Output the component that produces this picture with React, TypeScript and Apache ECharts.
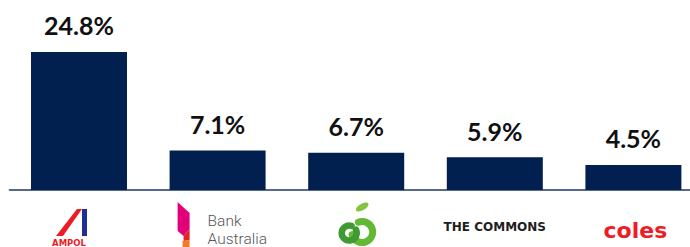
import React, { useEffect, useRef } from "react";
import * as echarts from "echarts";

const categories = ["Ampol", "Bank Australia", "Woolworths", "The Commons", "Coles"];
const shares = [24.8, 7.1, 6.7, 5.9, 4.5];

const NAVY = "#02204f";

export default function App() {
  const ref = useRef<HTMLDivElement>(null);
  useEffect(() => {
    if (!ref.current) return;
    const chart = echarts.init(ref.current, undefined, { renderer: "svg" });
    chart.setOption({
      animation: false,
      grid: { left: 9.7, width: 693, top: 23.05, height: 166.95, containLabel: false },
      xAxis: {
        type: "category",
        data: categories,
        axisLine: { show: true, lineStyle: { color: "#56698a", width: 2 } },
        axisTick: { show: false },
        axisLabel: { show: false },
      },
      yAxis: { type: "value", min: 0, max: 30, show: false, splitLine: { show: false } },
      series: [
        {
          type: "bar",
          data: shares,
          barWidth: 96,
          itemStyle: { color: NAVY },
          label: {
            show: true,
            position: "top",
            distance: 14,
            formatter: "{c}%",
            fontFamily: "Lato",
            fontWeight: "bold",
            fontSize: 25,
            color: "#111111",
          },
        },
      ],
    });

    const cx = (i: number) => chart.convertToPixel({ xAxisIndex: 0 }, categories[i]) as number;
    const c0 = cx(0), c1 = cx(1), c2 = cx(2), c3 = cx(3), c4 = cx(4);

    const graphic: any[] = [
      // Ampol
      {
        type: "polygon",
        shape: { points: [[c0 - 2, 209], [c0 + 3, 209], [c0 - 16, 236], [c0 - 23, 236]] },
        style: { fill: "#ec1c24" },
      },
      { type: "rect", shape: { x: c0 + 3, y: 209, width: 5, height: 27 }, style: { fill: "#1e2f96" } },
      {
        type: "text",
        x: c0 - 10,
        y: 238.5,
        style: {
          text: "AMPOL",
          fill: "#ec1c24",
          font: "bold 8.5px 'DejaVu Sans'",
          align: "center",
          verticalAlign: "top",
        },
      },
      // Bank Australia
      {
        type: "polygon",
        shape: { points: [[c1 - 40, 202], [c1 - 28, 213], [c1 - 28, 229], [c1 - 34, 236], [c1 - 40, 231]] },
        style: { fill: "#e2007a" },
      },
      {
        type: "polygon",
        shape: { points: [[c1 - 34, 236], [c1 - 28, 229], [c1 - 28, 240], [c1 - 34, 241]] },
        style: { fill: "#e62029" },
      },
      {
        type: "polygon",
        shape: { points: [[c1 - 35, 241], [c1 - 28, 240], [c1 - 28, 247], [c1 - 35, 247]] },
        style: { fill: "#f47b20" },
      },
      {
        type: "text",
        x: c1 - 10,
        y: 213,
        style: {
          text: "Bank",
          fill: "#555555",
          font: "300 15.5px Roboto",
          align: "left",
          verticalAlign: "top",
        },
      },
      {
        type: "text",
        x: c1 - 10,
        y: 231,
        style: {
          text: "Australia",
          fill: "#555555",
          font: "300 15.5px Roboto",
          align: "left",
          verticalAlign: "top",
        },
      },
      // Woolworths
      {
        type: "arc",
        shape: { cx: c2 + 6, cy: 232, r: 10.5, startAngle: -0.62 * Math.PI, endAngle: 0.92 * Math.PI, clockwise: true },
        style: { stroke: "#62b936", lineWidth: 7, fill: "none", lineCap: "round" },
      },
      {
        type: "arc",
        shape: { cx: c2 - 7, cy: 233, r: 7.5, startAngle: -0.15 * Math.PI, endAngle: 1.6 * Math.PI, clockwise: true },
        style: { stroke: "#3d9b2f", lineWidth: 6.5, fill: "none", lineCap: "round" },
      },
      {
        type: "ellipse",
        shape: { cx: c2 + 6, cy: 207, rx: 7, ry: 3.3 },
        rotation: Math.PI / 6,
        originX: c2 + 6,
        originY: 207,
        style: { fill: "#86c440" },
      },
      // The Commons
      {
        type: "text",
        x: c3,
        y: 227,
        style: {
          text: "THE COMMONS",
          fill: "#1e1e1e",
          font: "bold 12px 'DejaVu Sans'",
          align: "center",
          verticalAlign: "middle",
        },
      },
      // Coles
      {
        type: "text",
        x: c4 + 2,
        y: 230,
        style: {
          text: "coles",
          fill: "#ee1c25",
          font: "bold 22px 'DejaVu Sans'",
          align: "center",
          verticalAlign: "middle",
        },
      },
    ];
    chart.setOption({ graphic });

    return () => chart.dispose();
  }, []);
  return (
    <div style={{ position: "absolute", left: 0, top: 0, width: 690, height: 247, overflow: "hidden" }}>
      <div ref={ref} style={{ width: 720, height: 247 }} />
    </div>
  );
}
